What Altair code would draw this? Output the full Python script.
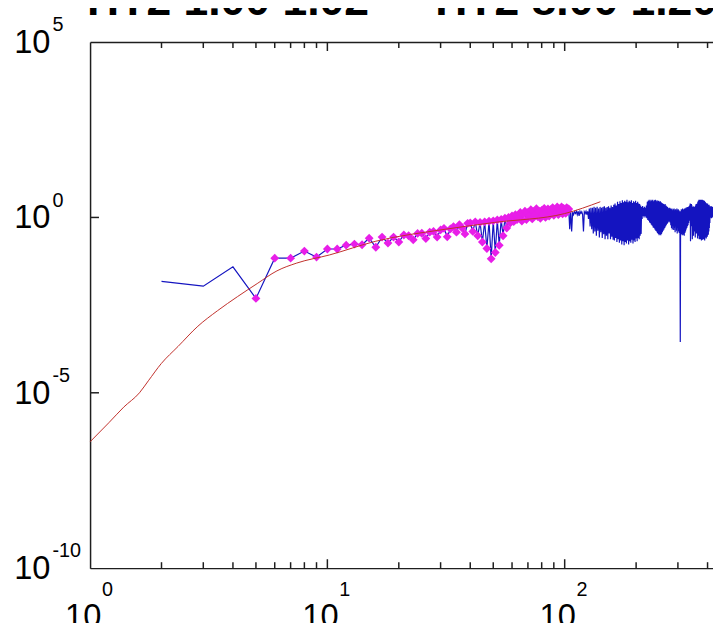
import altair as alt
import pandas as pd

# ---------------- data ----------------
red_x = [1.0, 1.2, 1.386, 1.615, 1.761, 1.995, 2.349, 2.846, 3.447, 4.177,
         5.061, 6.131, 7.429, 10.19, 16.0, 31.32, 50.61, 100.0, 141.3]
red_y = [4.0e-7, 1.4e-6, 3.9e-6, 1.0e-5, 2.2e-5, 6.8e-5, 2.1e-4, 7.9e-4, 2.2e-3, 5.5e-3,
         0.013, 0.030, 0.050, 0.085, 0.21, 0.46, 0.72, 1.29, 2.8]

mag_start = 5
mag_y = [0.0049, 0.069, 0.069, 0.11, 0.074, 0.126, 0.126, 0.162, 0.174, 0.166,   # 5-14
         0.257, 0.141, 0.275, 0.186, 0.275, 0.20, 0.316, 0.30, 0.23, 0.35,       # 15-24
         0.355, 0.25, 0.38, 0.40, 0.275, 0.44, 0.49, 0.28, 0.47, 0.55,          # 25-34
         0.38, 0.62, 0.50, 0.34, 0.68, 0.70, 0.40, 0.75, 0.30, 0.72,            # 35-44
         0.20, 0.75, 0.13, 0.78, 0.066, 0.80, 0.10, 0.85, 0.16, 0.88,           # 45-54
         0.30, 0.95, 0.50, 1.00, 0.70, 1.10, 0.76, 1.20, 0.87, 1.00,            # 55-64
         1.38, 0.79, 1.26, 1.51, 0.87, 1.38, 1.12, 1.66, 0.91, 1.45,            # 65-74
         1.20, 1.78, 1.05, 1.51, 0.95, 1.58, 1.26, 1.82, 1.00, 1.41,            # 75-84
         1.74, 1.10, 1.66, 1.32, 1.91, 1.15, 1.58, 1.38, 2.0, 1.20,             # 85-94
         1.74, 1.45, 2.0, 1.26, 1.82, 1.58, 1.32, 1.91, 1.51, 1.74]             # 95-104

blue_head_x = [2, 3, 4]
blue_head_y = [0.015, 0.011, 0.039]

blue_tail_start = 105
blue_tail_y = [
    0.46, 1.5, 0.40, 1.4, 1.2, 1.45,
    1.3, 1.5, 1.2, 1.5, 1.1, 1.5, 1.3, 1.45, 1.2, 0.40, 1.45, 1.3, 1.5, 1.2, 1.5,
    0.9, 1.8, 0.55, 1.9, 0.46, 1.9, 0.35,
    2.0, 0.40, 1.9, 0.30, 2.0, 0.42, 1.8, 0.27, 2.0, 0.38, 1.9, 0.26, 2.0, 0.33,
    2.1, 0.24, 1.9, 0.30, 2.0, 0.24, 2.1, 0.35, 1.9, 0.24, 2.2, 0.28, 2.0, 0.23,
    2.3, 0.22, 2.5, 0.26, 2.2, 0.20, 2.8, 0.24, 2.4, 0.19,
    2.9, 0.22, 2.6, 0.17, 3.1, 0.21, 2.7, 0.16, 3.0, 0.20, 2.8, 0.18, 3.2, 0.22,
    2.7, 0.17, 3.0, 0.21, 2.8, 0.19, 3.1, 0.23, 2.6, 0.18, 2.9, 0.22, 2.7, 0.20,
    3.0, 0.25, 2.6, 0.21, 2.8, 0.26, 2.5, 0.24, 2.4, 0.30, 2.2, 0.34,
    2.0, 0.9, 2.1, 1.1, 1.9, 1.0, 2.0, 1.1, 1.9, 1.0, 2.2, 0.95,
    2.8, 0.85, 3.0, 0.80, 3.2, 0.72, 2.9, 0.68, 3.2, 0.62, 3.0, 0.58, 3.2, 0.52,
    2.9, 0.50, 3.1, 0.45, 3.2, 0.42, 2.9, 0.40, 3.1, 0.36, 2.9, 0.34, 3.0, 0.31,
    2.8, 0.33, 2.9, 0.31, 2.7,
    0.34, 2.6, 0.38, 2.5, 0.42, 2.4, 0.45, 2.3, 0.5, 2.4, 0.55, 2.2, 0.6, 2.1,
    0.65, 2.0, 0.7, 1.9, 0.75, 1.8, 0.77, 1.9, 0.72,
    1.8, 0.6, 1.7, 0.5, 1.8, 0.45, 1.6, 0.56, 1.7, 0.44, 1.8, 0.5, 1.6, 0.38,
    1.7, 0.55, 1.6, 0.42, 1.8, 0.35, 1.6, 0.5, 1.7, 0.4, 1.6, 0.36, 1.5,
    0.45, 0.00028, 1.5,
    0.35, 1.7, 0.33, 1.6, 0.31, 1.8, 0.35, 1.7, 0.32, 1.6, 0.30, 1.8, 0.36, 1.7,
    0.40, 1.9, 0.45, 1.8, 0.5, 2.0, 0.56, 1.9, 0.6, 2.0, 0.7, 2.1, 0.8,
    2.2, 0.88, 2.5, 0.21, 2.3, 0.56, 2.4, 0.7, 2.2, 0.24, 2.0, 0.6, 1.9, 0.3,
    2.1, 0.68, 1.8, 0.4, 2.0, 0.27, 2.2, 0.6, 2.4, 0.35, 2.2, 0.68, 2.5, 0.25,
    2.8, 0.5, 3.0, 0.3, 3.2, 0.24, 3.0, 0.4, 3.2,
    0.24, 3.1, 0.26, 3.2, 0.22, 3.0, 0.28, 3.2, 0.23, 2.9, 0.25, 3.1, 0.24, 2.8,
    0.3, 3.0, 0.22, 2.8, 0.27, 2.7, 0.3, 2.6, 0.25, 2.5, 0.3, 2.4, 0.28, 2.5,
    0.35, 2.3, 0.32, 2.2, 0.4, 2.3, 0.5, 2.1, 0.7, 2.0,
    1.0, 2.1, 1.1, 2.0, 0.95, 2.1, 1.1, 2.0, 1.0, 1.9, 1.1, 2.0,
]

x_major_ticks = [10, 100]
x_minor_ticks = [2, 3, 4, 5, 6, 7, 8, 9, 20, 30, 40, 50, 60, 70, 80, 90, 200, 300, 400]
y_major_ticks = [1e-5, 1]
x_label_vals = [1, 10, 100]
x_label_exp = ["0", "1", "2"]
y_label_vals = [1e5, 1, 1e-5, 1e-10]
y_label_exp = ["5", "0", "-5", "-10"]
titles = ["HT2 1.00 1.02", "HT2 8.00 1.20"]

# ---------------- tables ----------------
mag_x = list(range(mag_start, mag_start + len(mag_y)))
tail_x = list(range(blue_tail_start, blue_tail_start + len(blue_tail_y)))
blue_df = pd.DataFrame({"x": blue_head_x + mag_x + tail_x,
                        "y": blue_head_y + mag_y + blue_tail_y})
mag_df = pd.DataFrame({"x": mag_x, "y": mag_y})
red_df = pd.DataFrame({"x": red_x, "y": red_y})

W, H = 630, 532
AX = "#1e1e1e"
BLUE = "#1414c0"
MAG = "#e81ee8"
RED = "#c0302a"
FONT = "Liberation Sans"

xs = alt.Scale(type="log", domain=[1, 421.7], nice=False)
ys = alt.Scale(type="log", domain=[1e-10, 1e5], nice=False)
Y_AX = alt.Axis(orient="left", domainColor=AX, domainWidth=1.5,
                ticks=False, labels=False, grid=False, title=None)


def Y(field):
    return alt.Y(field, scale=ys, axis=Y_AX)


blue = alt.Chart(blue_df).mark_line(color=BLUE, strokeWidth=1.2, clip=True).encode(
    x=alt.X("x:Q", scale=xs, axis=alt.Axis(orient="bottom", domainColor=AX, domainWidth=1.5,
                                           ticks=False, labels=False, grid=False, title=None)),
    y=Y("y:Q"),
)
mag = alt.Chart(mag_df).mark_point(shape="diamond", filled=True, size=80, color=MAG, opacity=1).encode(
    x=alt.X("x:Q", scale=xs, axis=alt.Axis(orient="top", domainColor=AX, domainWidth=1.5,
                                           ticks=False, labels=False, grid=False, title=None)),
    y=Y("y:Q"),
)
red = alt.Chart(red_df).mark_line(color=RED, strokeWidth=1, interpolate="monotone").encode(
    x=alt.X("x:Q", scale=xs, axis=None),
    y=Y("y:Q"),
)


def xticks(vals, length):
    df = pd.DataFrame({"t": vals})
    b = alt.Chart(df).mark_rule(color=AX, strokeWidth=1.5).encode(
        x=alt.X("t:Q", scale=xs, axis=None), y=alt.value(H), y2=alt.value(H - length))
    t = alt.Chart(df).mark_rule(color=AX, strokeWidth=1.5).encode(
        x=alt.X("t:Q", scale=xs, axis=None), y=alt.value(0), y2=alt.value(length))
    return [b, t]


yt = alt.Chart(pd.DataFrame({"t": y_major_ticks})).mark_rule(color=AX, strokeWidth=1.5).encode(
    y=Y("t:Q"), x=alt.value(0), x2=alt.value(9))

xl_df = pd.DataFrame({"v": x_label_vals, "e": x_label_exp})
x_ten = alt.Chart(xl_df).mark_text(font=FONT, fontSize=33, align="center", baseline="alphabetic",
                                   dx=-7, color="#000").encode(
    x=alt.X("v:Q", scale=xs, axis=None), y=alt.value(H + 60), text=alt.value("10"))
x_exp = alt.Chart(xl_df).mark_text(font=FONT, fontSize=20, align="left", baseline="alphabetic",
                                   dx=12, color="#000").encode(
    x=alt.X("v:Q", scale=xs, axis=None), y=alt.value(H + 28), text="e:N")

yl_df = pd.DataFrame({"v": y_label_vals, "e": y_label_exp})
y_ten = alt.Chart(yl_df).mark_text(font=FONT, fontSize=33, align="right", baseline="alphabetic",
                                   dy=11, color="#000").encode(
    y=Y("v:Q"), x=alt.value(-40), text=alt.value("10"))
y_exp = alt.Chart(yl_df).mark_text(font=FONT, fontSize=20, align="left", baseline="alphabetic",
                                   dy=-11, color="#000").encode(
    y=Y("v:Q"), x=alt.value(-38), text="e:N")

t1 = alt.Chart(pd.DataFrame({"s": [titles[0]]})).mark_text(
    font=FONT, fontSize=45, fontWeight="bold", align="left", baseline="alphabetic", color="#000").encode(
    x=alt.value(-3), y=alt.value(-27), text="s:N")
t2 = alt.Chart(pd.DataFrame({"s": [titles[1]]})).mark_text(
    font=FONT, fontSize=45, fontWeight="bold", align="left", baseline="alphabetic", color="#000").encode(
    x=alt.value(349), y=alt.value(-27), text="s:N")

layers = [blue, mag, red] + xticks(x_major_ticks, 9) + xticks(x_minor_ticks, 6) + \
         [yt, x_ten, x_exp, y_ten, y_exp, t1, t2]

chart = alt.layer(*layers).resolve_axis(x="independent").properties(
    width=W, height=H,
    autosize=alt.AutoSizeParams(type="none"),
    padding={"left": 83, "top": 31, "right": 0, "bottom": 52},
    background="white",
).configure_view(stroke=None)

chart.save("out.html", embed_options={"renderer": "svg", "actions": False})
